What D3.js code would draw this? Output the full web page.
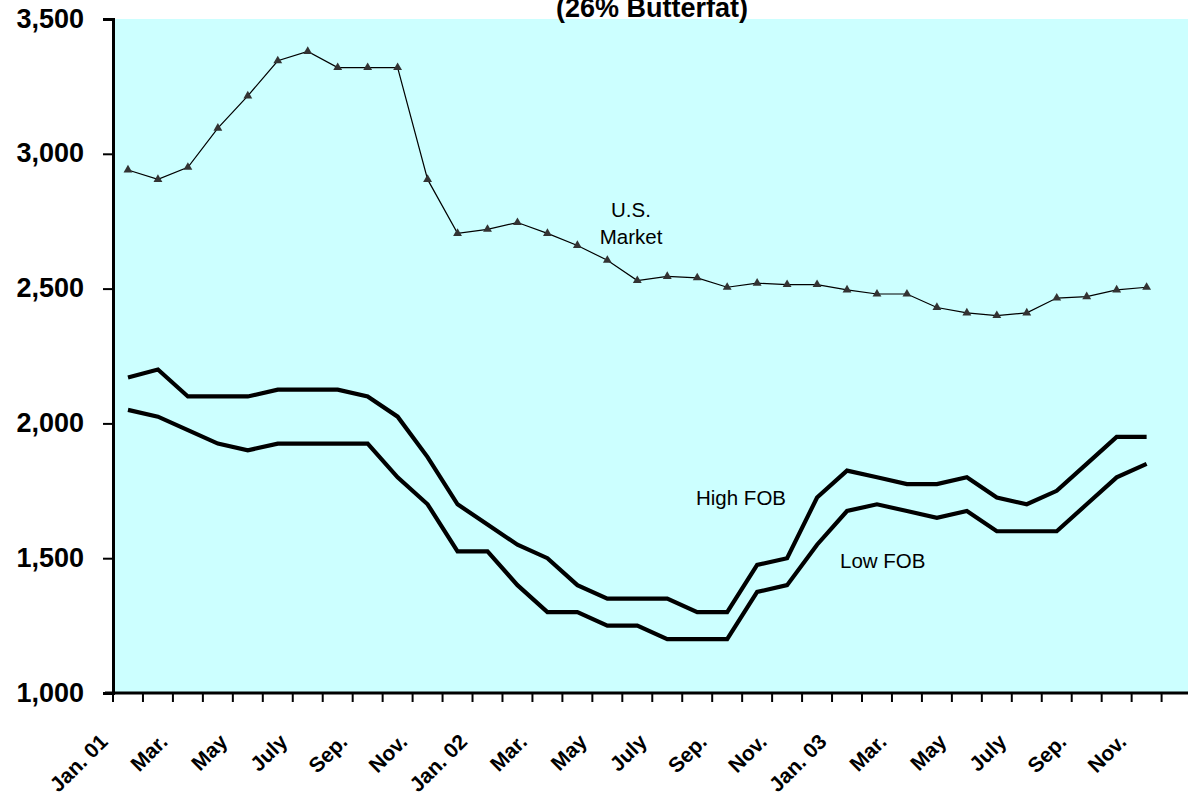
<!DOCTYPE html>
<html>
<head>
<meta charset="utf-8">
<script src="https://cdn.jsdelivr.net/npm/d3@7"></script>
<style>
  html, body { margin: 0; padding: 0; background: #fff; overflow: hidden; }
  svg { display: block; font-family: Arial, "Liberation Sans", sans-serif; }
</style>
</head>
<body>
<div id="chart"></div>
<script>
// monthly categories Jan. 01 .. Dec. 03, label on every other month
const monthLabels = ["Jan. 01","Feb.","Mar.","Apr.","May","June","July","Aug.","Sep.","Oct.","Nov.","Dec.",
                     "Jan. 02","Feb.","Mar.","Apr.","May","June","July","Aug.","Sep.","Oct.","Nov.","Dec.",
                     "Jan. 03","Feb.","Mar.","Apr.","May","June","July","Aug.","Sep.","Oct.","Nov.","Dec."];
const yTicks = [1000, 1500, 2000, 2500, 3000, 3500];

const usMarket = [2940, 2905, 2950, 3095, 3215, 3345, 3380, 3320, 3320, 3320, 2905, 2705,
                  2720, 2745, 2705, 2660, 2605, 2530, 2545, 2540, 2505, 2520, 2515, 2515,
                  2495, 2480, 2480, 2430, 2410, 2400, 2410, 2465, 2470, 2495, 2505, null];
const highFob  = [2170, 2200, 2100, 2100, 2100, 2125, 2125, 2125, 2100, 2025, 1875, 1700,
                  1625, 1550, 1500, 1400, 1350, 1350, 1350, 1300, 1300, 1475, 1500, 1725,
                  1825, 1800, 1775, 1775, 1800, 1725, 1700, 1750, 1850, 1950, 1950, null];
const lowFob   = [2050, 2025, 1975, 1925, 1900, 1925, 1925, 1925, 1925, 1800, 1700, 1525,
                  1525, 1400, 1300, 1300, 1250, 1250, 1200, 1200, 1200, 1375, 1400, 1550,
                  1675, 1700, 1675, 1650, 1675, 1600, 1600, 1600, 1700, 1800, 1850, null];

const width = 1188;
const height = 798;
const plotLeft = 113;
const plotTop = 19;
const plotBottom = 693;
const slot = 29.96;

const svg = d3.select("#chart").append("svg")
    .attr("width", width)
    .attr("height", height);

const scaleX = d3.scaleBand()
    .domain(d3.range(monthLabels.length))
    .range([plotLeft, plotLeft + slot * monthLabels.length])
    .paddingInner(0).paddingOuter(0);

const scaleY = d3.scaleLinear()
    .domain([1000, 3500])
    .range([plotBottom, plotTop]);

const cx = (i) => scaleX(i) + scaleX.bandwidth() / 2;

// plot area
svg.append("rect")
    .attr("x", plotLeft)
    .attr("y", plotTop)
    .attr("width", slot * monthLabels.length)
    .attr("height", plotBottom - plotTop)
    .attr("fill", "#ccffff");

// title (its upper part is cropped in the reference too)
svg.append("text")
    .attr("x", 652)
    .attr("y", 17)
    .attr("text-anchor", "middle")
    .attr("font-size", 27)
    .attr("font-weight", "bold")
    .text("(26% Butterfat)");

// lines
const line = d3.line()
    .defined((d) => d != null)
    .x((d, i) => cx(i))
    .y((d) => scaleY(d));

svg.append("path")
    .datum(highFob)
    .attr("d", line)
    .attr("fill", "none")
    .attr("stroke", "#000")
    .attr("stroke-width", 4.2);

svg.append("path")
    .datum(lowFob)
    .attr("d", line)
    .attr("fill", "none")
    .attr("stroke", "#000")
    .attr("stroke-width", 4.2);

svg.append("path")
    .datum(usMarket)
    .attr("d", line)
    .attr("fill", "none")
    .attr("stroke", "#000")
    .attr("stroke-width", 1.2);

const tri = d3.symbol().type(d3.symbolTriangle).size(34);
svg.append("g")
    .selectAll("path")
    .data(usMarket.map((v, i) => [i, v]).filter((d) => d[1] != null))
    .enter()
    .append("path")
    .attr("d", tri)
    .attr("transform", (d) => `translate(${cx(d[0])}, ${scaleY(d[1])})`)
    .attr("fill", "#333");

// series labels
const labels = svg.append("g").attr("font-size", 20.5).attr("fill", "#000");
labels.append("text").attr("x", 631).attr("y", 217).attr("text-anchor", "middle").text("U.S.");
labels.append("text").attr("x", 631).attr("y", 243.5).attr("text-anchor", "middle").text("Market");
labels.append("text").attr("x", 696).attr("y", 505).text("High FOB");
labels.append("text").attr("x", 840).attr("y", 568).text("Low FOB");

// y axis
const yAxis = d3.axisLeft(scaleY)
    .tickValues(yTicks)
    .tickSize(10)
    .tickFormat(d3.format(","));
const gy = svg.append("g")
    .attr("transform", `translate(${plotLeft}, 0)`)
    .call(yAxis);
gy.select(".domain").attr("stroke", "#000").attr("stroke-width", 3);
gy.selectAll(".tick line").attr("stroke", "#000").attr("stroke-width", 2);
gy.selectAll(".tick text")
    .attr("x", -29)
    .attr("dy", null)
    .attr("y", 8)
    .attr("font-size", 27)
    .attr("font-weight", "bold")
    .attr("font-family", "Arial, 'Liberation Sans', sans-serif")
    .attr("fill", "#000");

// x axis: tick marks at category boundaries
const gx = svg.append("g");
gx.append("line")
    .attr("x1", plotLeft - 8)
    .attr("x2", width)
    .attr("y1", plotBottom)
    .attr("y2", plotBottom)
    .attr("stroke", "#000")
    .attr("stroke-width", 3);
gx.selectAll(".xt")
    .data(d3.range(monthLabels.length + 1))
    .enter()
    .append("line")
    .attr("class", "xt")
    .attr("x1", (i) => plotLeft + i * scaleX.bandwidth())
    .attr("x2", (i) => plotLeft + i * scaleX.bandwidth())
    .attr("y1", plotBottom)
    .attr("y2", plotBottom + 9)
    .attr("stroke", "#000")
    .attr("stroke-width", 2);
gx.selectAll(".xl")
    .data(d3.range(0, monthLabels.length, 2))
    .enter()
    .append("text")
    .attr("class", "xl")
    .attr("text-anchor", "end")
    .attr("font-size", 21)
    .attr("font-weight", "bold")
    .attr("transform", (i) => `translate(${cx(i) - 19}, 743) rotate(-45)`)
    .text((i) => monthLabels[i]);
</script>
</body>
</html>
